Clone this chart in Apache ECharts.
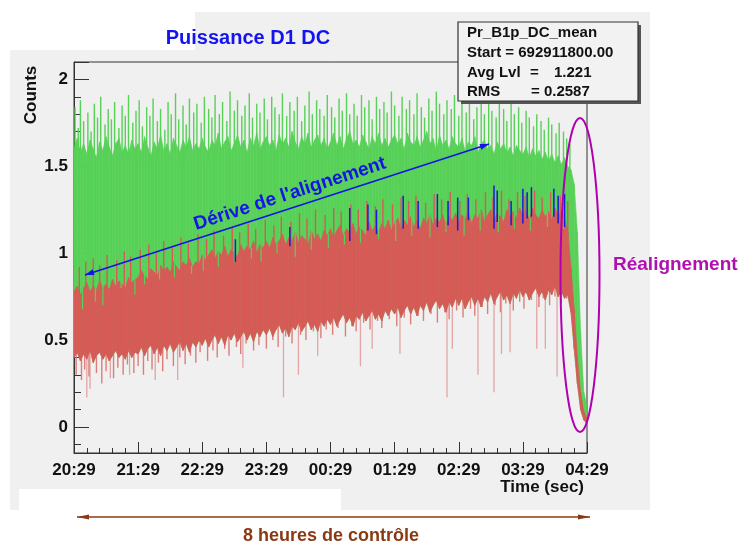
<!DOCTYPE html>
<html lang="fr">
<head>
<meta charset="UTF-8">
<title>Puissance D1 DC</title>
<style>
  html, body { margin: 0; padding: 0; background: #fff; }
  #chart { width: 745px; height: 544px; }
</style>
</head>
<body>
<div id="chart"></div>
<script src="https://cdn.jsdelivr.net/npm/echarts@6/dist/echarts.min.js"></script>
<script>
// one sample every 3 minutes from 20:29 (t = minutes since start)
const tStep = 3;
const xLabels = ['20:29', '21:29', '22:29', '23:29', '00:29', '01:29', '02:29', '03:29', '04:29'];

// dense part of the green trace
const greenHigh = [
  1.60,1.66,1.58,1.63,1.57,1.65,1.60,1.55,1.64,1.59,1.67,1.61,1.56,1.63,1.66,1.58,1.62,1.57,1.65,1.60,
  1.63,1.58,1.67,1.61,1.56,1.64,1.60,1.68,1.59,1.63,1.57,1.66,1.62,1.58,1.65,1.61,1.67,1.59,1.63,1.60,
  1.66,1.61,1.58,1.65,1.62,1.69,1.60,1.64,1.67,1.59,1.63,1.68,1.61,1.65,1.58,1.66,1.62,1.69,1.60,1.64,
  1.67,1.62,1.65,1.59,1.68,1.63,1.66,1.61,1.70,1.64,1.60,1.67,1.63,1.69,1.61,1.65,1.68,1.62,1.66,1.60,
  1.64,1.69,1.62,1.67,1.60,1.66,1.70,1.63,1.65,1.61,1.68,1.64,1.60,1.67,1.63,1.69,1.62,1.66,1.61,1.65,
  1.68,1.63,1.66,1.60,1.69,1.64,1.62,1.67,1.61,1.65,1.70,1.63,1.66,1.59,1.68,1.62,1.65,1.60,1.67,1.63,
  1.61,1.66,1.59,1.64,1.62,1.67,1.58,1.63,1.65,1.60,1.62,1.57,1.64,1.60,1.63,1.58,1.61,1.56,1.62,1.59,
  1.57,1.61,1.55,1.60,1.56,1.59,1.54,1.58,1.53,1.57,1.52,1.56,1.51,1.55,1.50,1.48,1.40,1.12,0.55,0.20,
  0.12
];
// thin green spikes above the dense part [minute, value]
const greenSpikes = [
  [1,1.84],[4,1.72],[6,1.88],[9,1.76],[13,1.81],[16,1.70],[19,1.86],[22,1.78],[25,1.90],[29,1.74],
  [32,1.83],[35,1.77],[38,1.87],[42,1.72],[45,1.85],[48,1.79],[51,1.91],[55,1.75],[58,1.82],[61,1.88],
  [64,1.73],[68,1.84],[71,1.79],[74,1.89],[78,1.76],[81,1.83],[85,1.71],[88,1.87],[91,1.80],[95,1.92],
  [98,1.77],[102,1.85],[105,1.74],[108,1.89],[112,1.81],[115,1.86],[119,1.75],[122,1.90],[126,1.83],[129,1.78],
  [132,1.91],[136,1.80],[139,1.87],[143,1.76],[146,1.93],[150,1.82],[153,1.88],[157,1.79],[160,1.85],[164,1.92],
  [167,1.78],[171,1.86],[174,1.81],[178,1.89],[181,1.77],[185,1.90],[188,1.84],[192,1.80],[195,1.92],[199,1.79],
  [202,1.87],[206,1.82],[209,1.90],[213,1.76],[216,1.85],[220,1.93],[223,1.80],[227,1.88],[230,1.83],[234,1.79],
  [237,1.91],[241,1.84],[244,1.78],[248,1.89],[251,1.82],[255,1.92],[258,1.80],[262,1.86],[265,1.79],[269,1.91],
  [272,1.84],[276,1.88],[279,1.77],[283,1.90],[286,1.83],[290,1.87],[293,1.81],[297,1.93],[300,1.85],[304,1.79],
  [307,1.90],[311,1.83],[314,1.88],[318,1.80],[321,1.92],[325,1.84],[328,1.78],[332,1.89],[335,1.82],[339,1.93],
  [342,1.86],[346,1.80],[349,1.88],[353,1.83],[356,1.91],[360,1.79],[363,1.86],[367,1.81],[370,1.89],[374,1.77],
  [377,1.84],[381,1.90],[384,1.80],[388,1.87],[391,1.82],[395,1.78],[398,1.88],[402,1.83],[405,1.76],[409,1.86],
  [412,1.80],[416,1.84],[419,1.75],[423,1.82],[426,1.78],[430,1.73],[433,1.80],[437,1.76],[440,1.71],[444,1.78],
  [447,1.74],[451,1.69],[454,1.75],[458,1.70],[461,1.66],[464,1.63]
];

// dense part of the red trace: top and bottom
const redHigh = [
  0.78,0.81,0.76,0.80,0.83,0.78,0.81,0.79,0.84,0.80,0.82,0.79,0.85,0.81,0.84,0.82,0.80,0.86,0.83,0.85,
  0.86,0.90,0.87,0.85,0.91,0.89,0.87,0.93,0.90,0.92,0.89,0.95,0.92,0.90,0.95,0.93,0.97,0.92,0.95,0.94,
  0.99,0.96,0.99,1.02,0.97,1.01,0.99,1.04,0.98,1.02,1.00,0.98,1.05,1.01,1.04,1.02,1.07,1.00,1.05,1.03,
  1.07,1.03,1.09,1.05,1.07,1.11,1.05,1.09,1.07,1.12,1.06,1.10,1.08,1.05,1.13,1.08,1.11,1.07,1.13,1.10,
  1.14,1.09,1.13,1.16,1.10,1.14,1.12,1.17,1.11,1.15,1.13,1.10,1.18,1.13,1.16,1.12,1.17,1.14,1.19,1.13,
  1.17,1.20,1.14,1.19,1.16,1.21,1.15,1.19,1.14,1.20,1.17,1.22,1.16,1.20,1.18,1.22,1.16,1.21,1.19,1.23,
  1.18,1.22,1.20,1.24,1.17,1.22,1.20,1.25,1.18,1.22,1.25,1.19,1.23,1.21,1.18,1.25,1.21,1.24,1.20,1.26,
  1.22,1.25,1.19,1.26,1.22,1.20,1.25,1.21,1.24,1.19,1.26,1.22,1.24,1.20,1.12,0.92,0.68,0.40,0.20,0.09,
  0.05
];
const redLow = [
  0.40,0.43,0.38,0.42,0.39,0.44,0.37,0.41,0.43,0.39,0.42,0.38,0.41,0.44,0.40,0.42,0.39,0.44,0.40,0.43,
  0.42,0.46,0.41,0.45,0.47,0.42,0.46,0.41,0.47,0.44,0.48,0.43,0.46,0.49,0.44,0.48,0.43,0.49,0.46,0.50,
  0.47,0.51,0.46,0.50,0.53,0.48,0.52,0.47,0.53,0.50,0.54,0.49,0.52,0.55,0.50,0.54,0.49,0.55,0.52,0.56,
  0.53,0.57,0.52,0.56,0.59,0.54,0.57,0.52,0.58,0.56,0.60,0.55,0.58,0.61,0.56,0.59,0.55,0.61,0.58,0.62,
  0.59,0.63,0.58,0.62,0.65,0.60,0.63,0.58,0.64,0.62,0.66,0.61,0.64,0.67,0.62,0.65,0.61,0.67,0.64,0.68,
  0.65,0.69,0.63,0.67,0.70,0.65,0.69,0.64,0.70,0.67,0.72,0.66,0.70,0.73,0.68,0.71,0.66,0.72,0.69,0.74,
  0.70,0.74,0.68,0.72,0.75,0.70,0.74,0.69,0.75,0.72,0.77,0.71,0.75,0.78,0.73,0.76,0.71,0.77,0.74,0.79,
  0.75,0.78,0.73,0.77,0.80,0.75,0.78,0.73,0.79,0.76,0.81,0.75,0.78,0.74,0.76,0.66,0.45,0.25,0.10,0.04,
  0.02
];
// red spikes reaching up into the green [minute, value]
const redSpikes = [
  [5,0.92],[11,0.95],[18,0.97],[24,0.93],[31,0.99],[40,0.96],[47,1.01],[53,0.98],[62,1.02],[70,1.05],
  [77,1.00],[84,1.07],[92,1.04],[100,1.09],[107,1.06],[116,1.11],[124,1.08],[131,1.13],[140,1.10],[148,1.15],
  [155,1.12],[163,1.17],[170,1.14],[179,1.19],[187,1.16],[194,1.21],[203,1.18],[211,1.23],[218,1.20],[226,1.25],
  [235,1.22],[243,1.26],[250,1.24],[259,1.28],[266,1.25],[274,1.30],[282,1.27],[289,1.31],[298,1.28],[306,1.32],
  [313,1.30],[320,1.33],[329,1.29],[337,1.34],[344,1.31],[352,1.35],[361,1.30],[368,1.34],[376,1.31],[385,1.35],
  [392,1.32],[400,1.36],[407,1.31],[415,1.35],[422,1.33],[431,1.36],[438,1.32],[446,1.35],[455,1.33],[462,1.30]
];
// green streaks showing through the top of the red [minute, value]
const greenNotches = [
  [8,0.68],[20,0.72],[27,0.70],[44,0.80],[57,0.76],[66,0.82],[80,0.85],[94,0.86],[110,0.88],[121,0.90],
  [135,0.92],[150,0.95],[166,0.97],[175,0.95],[190,1.00],[207,0.98],[222,1.02],[238,1.03],[253,1.05],[268,1.06],
  [285,1.08],[301,1.07],[316,1.10],[333,1.09],[348,1.12],[365,1.10],[380,1.13],[397,1.12],[412,1.14],[427,1.13],
  [443,1.15],[458,1.14]
];
// ragged lower edge of the red [minute, value]
const redFringe = [
  [2,0.30],[7,0.27],[10,0.33],[14,0.29],[21,0.31],[26,0.25],[30,0.32],[37,0.28],[41,0.34],[46,0.30],
  [50,0.36],[56,0.31],[60,0.35],[65,0.30],[69,0.38],[73,0.33],[79,0.37],[83,0.32],[87,0.39],[93,0.35],
  [99,0.40],[104,0.36],[109,0.41],[114,0.37],[118,0.43],[125,0.38],[130,0.44],[134,0.40],[141,0.45],[145,0.41],
  [152,0.46],[156,0.42],[161,0.48],[168,0.44],[173,0.47],[180,0.45],[186,0.50],[191,0.46],[198,0.52],[204,0.48],
  [212,0.53],[217,0.50],[224,0.55],[231,0.51],[236,0.56],[242,0.53],[247,0.57],[254,0.52],[260,0.58],[264,0.55],
  [271,0.60],[277,0.56],[284,0.61],[288,0.57],[295,0.62],[302,0.58],[309,0.63],[315,0.59],[322,0.64],[327,0.61],
  [334,0.65],[340,0.60],[347,0.66],[351,0.62],[358,0.67],[364,0.63],[371,0.68],[375,0.64],[382,0.69],[387,0.65],
  [394,0.70],[399,0.66],[404,0.71],[411,0.67],[417,0.72],[421,0.68],[428,0.73],[435,0.69],[439,0.74],[445,0.70],
  [450,0.75],[456,0.71],[461,0.74]
];
// long isolated downward red spikes [minute, value]
const redDips = [
  [12,0.17],[15,0.22],[34,0.28],[52,0.30],[76,0.27],[97,0.27],[158,0.34],[196,0.17],[210,0.30],
  [228,0.41],[268,0.35],[279,0.45],[305,0.42],[349,0.17],[354,0.45],[378,0.30],[393,0.20],
  [400,0.42],[408,0.43],[433,0.45],[441,0.45],[452,0.29]
];
// blue trace peeking above the red one [minute, value]
const blueSpikes = [
  [151,1.08],[202,1.15],[258,1.26],[275,1.28],[283,1.25],[308,1.33],[322,1.30],[340,1.34],
  [350,1.30],[359,1.32],[369,1.32],[393,1.39],[396,1.36],[409,1.30],[420,1.37],[424,1.35],
  [428,1.38],[449,1.37],[453,1.33],[459,1.34]
];

const green = '#57d157', red = '#d65b57', blue = '#1a1ad8', pale = '#e4a4a4', fringe = '#dc7d79';
const txtFont = '"Liberation Sans", Arial, sans-serif';

const idx = (t) => Math.min(redLow.length - 1, Math.round(t / tStep));

// one quad per sample step: [t0, top0, bottom0, t1, top1, bottom1]
function segments(top, bottom) {
  const out = [];
  for (let i = 0; i < top.length - 1; i++) {
    out.push([i * tStep, top[i], bottom[i], (i + 1) * tStep, top[i + 1], bottom[i + 1]]);
  }
  return out;
}

function bandQuad(params, api) {
  const a = api.coord([api.value(0), api.value(1)]);
  const b = api.coord([api.value(3), api.value(4)]);
  const c = api.coord([api.value(3), api.value(5)]);
  const d = api.coord([api.value(0), api.value(2)]);
  const col = api.visual('color');
  return {
    type: 'polygon',
    shape: { points: [a, b, c, d] },
    style: { fill: col, stroke: col, lineWidth: 0.6 }
  };
}

function band(name, top, bottom, color) {
  return {
    name: name, type: 'custom', renderItem: bandQuad, itemStyle: { color: color },
    encode: { x: [0, 3], y: [1, 2, 4, 5] }, silent: true, clip: true,
    data: segments(top, bottom)
  };
}

function vline(width) {
  return function (params, api) {
    const p1 = api.coord([api.value(0), api.value(1)]);
    const p2 = api.coord([api.value(0), api.value(2)]);
    return {
      type: 'line',
      shape: { x1: p1[0], y1: p1[1], x2: p2[0], y2: p2[1] },
      style: { stroke: api.visual('color'), lineWidth: width }
    };
  };
}

function sticks(name, list, color, width, anchor) {
  return {
    name: name, type: 'custom', renderItem: vline(width), itemStyle: { color: color },
    encode: { x: 0, y: [1, 2] }, silent: true, clip: true,
    data: list.map(([t, v]) => [t, v, anchor(t)])
  };
}

function arrowHead(x1, y1, x2, y2, len, half) {
  const a = Math.atan2(y2 - y1, x2 - x1);
  const c = Math.cos(a), s = Math.sin(a);
  return [[x2, y2],
    [x2 - len * c + half * s, y2 - len * s - half * c],
    [x2 - len * c - half * s, y2 - len * s + half * c]];
}

const chart = echarts.init(document.getElementById('chart'));

const dArrow = [85, 275, 489, 144];
const bArrow = [77, 517, 590, 517];

chart.setOption({
  animation: false,
  backgroundColor: '#ffffff',
  grid: { left: 74, top: 62, width: 513, height: 391, show: true, borderColor: '#333', borderWidth: 1 },
  xAxis: {
    type: 'value', min: 0, max: 480, interval: 60,
    axisLine: { show: true, onZero: false, lineStyle: { color: '#333', width: 1 } },
    axisTick: { show: true, inside: true, length: 11, lineStyle: { color: '#333' } },
    minorTick: { show: true, splitNumber: 5, length: 5, lineStyle: { color: '#333' } },
    splitLine: { show: false },
    axisLabel: {
      formatter: (v) => xLabels[Math.round(v / 60)],
      color: '#111', fontSize: 17, fontWeight: 'bold', fontFamily: txtFont, margin: 9
    }
  },
  yAxis: {
    type: 'value', min: -0.15, max: 2.1, splitNumber: 5,
    axisLine: { show: true, onZero: false, lineStyle: { color: '#333', width: 1 } },
    axisTick: { show: true, inside: true, length: 15, lineStyle: { color: '#333' } },
    minorTick: { show: true, splitNumber: 5, length: 7, lineStyle: { color: '#333' } },
    splitLine: { show: false },
    axisLabel: {
      showMinLabel: false, showMaxLabel: false,
      color: '#111', fontSize: 17, fontWeight: 'bold', fontFamily: txtFont, margin: 6
    }
  },
  series: [
    band('green', greenHigh, redLow, green),
    sticks('greenSpikes', greenSpikes, green, 1.4, (t) => greenHigh[idx(t)] - 0.05),
    sticks('dips', redDips, pale, 1.3, (t) => redLow[idx(t)] + 0.05),
    sticks('fringe', redFringe, fringe, 1.4, (t) => redLow[idx(t)] + 0.03),
    band('red', redHigh, redLow, red),
    sticks('redSpikes', redSpikes, red, 1.4, (t) => redHigh[idx(t)] - 0.03),
    sticks('greenNotches', greenNotches, green, 1.2, (t) => redHigh[idx(t)] + 0.01),
    sticks('blue', blueSpikes, blue, 1.5, (t) => redHigh[idx(t)] - 0.05)
  ],
  graphic: [
    // canvas background pieces
    { type: 'rect', z: -10, shape: { x: 10, y: 12, width: 640, height: 498 }, style: { fill: '#f0f0f0' } },
    { type: 'rect', z: -9, shape: { x: 10, y: 12, width: 185, height: 38 }, style: { fill: '#ffffff' } },
    { type: 'rect', z: -9, shape: { x: 19, y: 489, width: 322, height: 21 }, style: { fill: '#ffffff' } },

    { type: 'text', z: 50, x: 248, y: 38,
      style: { text: 'Puissance D1 DC', fill: '#1414f0', font: 'bold 20px ' + txtFont, align: 'center', verticalAlign: 'middle' } },
    { type: 'text', z: 50, x: 31, y: 95, rotation: Math.PI / 2,
      style: { text: 'Counts', fill: '#111', font: 'bold 17px ' + txtFont, align: 'center', verticalAlign: 'middle' } },
    { type: 'text', z: 50, x: 584, y: 487,
      style: { text: 'Time (sec)', fill: '#111', font: 'bold 17px ' + txtFont, align: 'right', verticalAlign: 'middle' } },

    // stats box
    { type: 'rect', z: 60, shape: { x: 461, y: 25, width: 180, height: 79 }, style: { fill: '#555' } },
    { type: 'rect', z: 61, shape: { x: 458, y: 22, width: 180, height: 79 }, style: { fill: '#f2f2f2', stroke: '#333', lineWidth: 1.2 } },
    { type: 'text', z: 62, x: 467, y: 33, style: { text: 'Pr_B1p_DC_mean', fill: '#111', font: 'bold 15px ' + txtFont, verticalAlign: 'middle' } },
    { type: 'text', z: 62, x: 467, y: 53, style: { text: 'Start = 692911800.00', fill: '#111', font: 'bold 15px ' + txtFont, verticalAlign: 'middle' } },
    { type: 'text', z: 62, x: 467, y: 73, style: { text: 'Avg Lvl', fill: '#111', font: 'bold 15px ' + txtFont, verticalAlign: 'middle' } },
    { type: 'text', z: 62, x: 530, y: 73, style: { text: '=', fill: '#111', font: 'bold 15px ' + txtFont, verticalAlign: 'middle' } },
    { type: 'text', z: 62, x: 554, y: 73, style: { text: '1.221', fill: '#111', font: 'bold 15px ' + txtFont, verticalAlign: 'middle' } },
    { type: 'text', z: 62, x: 467, y: 92, style: { text: 'RMS', fill: '#111', font: 'bold 15px ' + txtFont, verticalAlign: 'middle' } },
    { type: 'text', z: 62, x: 531, y: 92, style: { text: '= 0.2587', fill: '#111', font: 'bold 15px ' + txtFont, verticalAlign: 'middle' } },

    // drift annotation
    { type: 'line', z: 50, shape: { x1: dArrow[0], y1: dArrow[1], x2: dArrow[2], y2: dArrow[3] }, style: { stroke: '#1414e6', lineWidth: 1.6 } },
    { type: 'polygon', z: 50, shape: { points: arrowHead(dArrow[2], dArrow[3], dArrow[0], dArrow[1], 9, 3) }, style: { fill: '#1414e6' } },
    { type: 'polygon', z: 50, shape: { points: arrowHead(dArrow[0], dArrow[1], dArrow[2], dArrow[3], 9, 3) }, style: { fill: '#1414e6' } },
    { type: 'text', z: 50, x: 290, y: 194, rotation: 0.315,
      style: { text: "Dérive de l'alignement", fill: '#1414e6', font: 'bold 19px ' + txtFont, align: 'center', verticalAlign: 'middle' } },

    // realignment annotation
    { type: 'ellipse', z: 50, shape: { cx: 580, cy: 275, rx: 19.5, ry: 157 }, style: { fill: null, stroke: '#b000b0', lineWidth: 2 } },
    { type: 'text', z: 50, x: 613, y: 265,
      style: { text: 'Réalignement', fill: '#b010b0', font: 'bold 19px ' + txtFont, verticalAlign: 'middle' } },

    // duration annotation
    { type: 'line', z: 50, shape: { x1: bArrow[0], y1: bArrow[1], x2: bArrow[2], y2: bArrow[3] }, style: { stroke: '#8a3a12', lineWidth: 1.3 } },
    { type: 'polygon', z: 50, shape: { points: arrowHead(bArrow[2], bArrow[3], bArrow[0], bArrow[1], 12, 2.5) }, style: { fill: '#8a3a12' } },
    { type: 'polygon', z: 50, shape: { points: arrowHead(bArrow[0], bArrow[1], bArrow[2], bArrow[3], 12, 2.5) }, style: { fill: '#8a3a12' } },
    { type: 'text', z: 50, x: 331, y: 536,
      style: { text: '8 heures de contrôle', fill: '#8a3a12', font: 'bold 18px ' + txtFont, align: 'center', verticalAlign: 'middle' } }
  ]
});

window.addEventListener('resize', () => {
  chart.resize();
});
</script>
</body>
</html>
